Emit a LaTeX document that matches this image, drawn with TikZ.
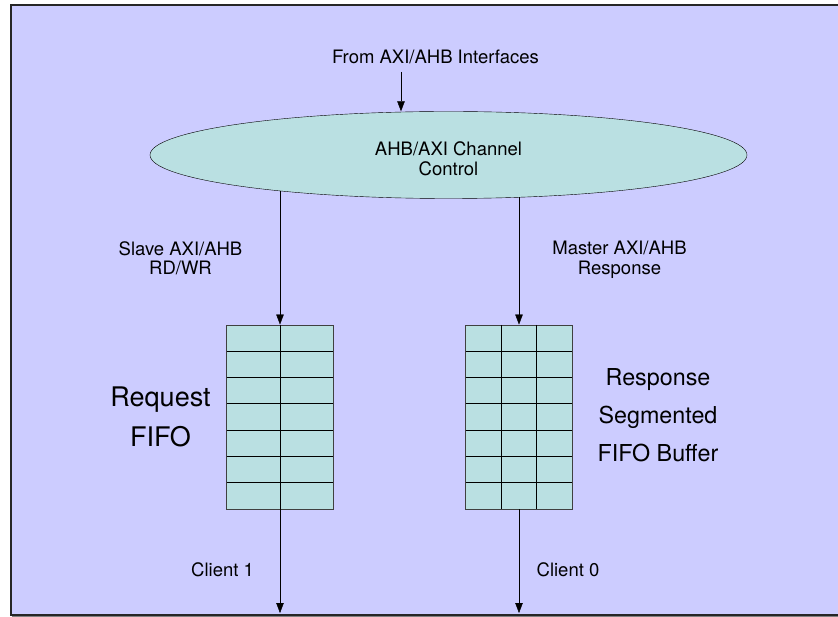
\documentclass[tikz,border=0pt]{standalone}
\usepackage{fontspec}
\setmainfont{TeX Gyre Heros}
\usepackage{tikz}
\usetikzlibrary{arrows.meta,shapes.geometric,positioning}
\definecolor{backdrop}{RGB}{204,204,255}
\definecolor{cellfill}{RGB}{186,224,226}

\tikzset{
  lbl/.style={inner sep=0pt, align=center, font=\fontsize{18.5}{19.3}\selectfont},
  fifo/.style={draw=black!75, fill=cellfill, minimum height=184pt, inner sep=0pt, line width=0.9pt},
  cell/.style={line width=0.9pt},
}

\begin{document}
\begin{tikzpicture}[x=1pt, y=-1pt, >={Triangle[length=10pt,width=7.5pt]}]
    \useasboundingbox (0,0) rectangle (838,617);

    % Backdrop panel
    \fill[backdrop] (11,5) rectangle (838,615);
    \draw[gray, line width=1pt] (12,616.5) -- (838,616.5);
    \draw[black!85, line width=1.2pt] (838,5) -- (11,5) -- (11,615) -- (838,615);

    % Channel control
    \node[draw, ellipse, fill=cellfill, minimum width=597pt, minimum height=87pt, inner sep=0pt] (ctrl) at (448.5,155) {};
    \node[lbl] (ctrltxt) at (448.5,158.7) {AHB/AXI Channel\\Control};

    \node[lbl, anchor=base] (from) at (435.5,64) {From AXI/AHB Interfaces};
    \coordinate (infeed) at (401,72);
    \draw[->] (infeed) -- (infeed |- ctrl.north);

    % Request FIFO, two columns
    \node[fifo, minimum width=106.3pt] (req) at (280,417) {};
    \foreach \i in {1,...,6}
        \draw[cell] (226.85,{325+\i*26.29}) -- (333.15,{325+\i*26.29});
    \draw[cell] (req.north) -- (req.south);
    \node[inner sep=0pt, align=center, font=\fontsize{27}{40.7}\selectfont] (reqtxt) at (160.5,416.8) {Request\\FIFO};

    % Response FIFO, three columns
    \node[fifo, minimum width=106.6pt] (rsp) at (519,417) {};
    \foreach \i in {1,...,6}
        \draw[cell] (465.7,{325+\i*26.29}) -- (572.3,{325+\i*26.29});
    \foreach \x in {501.2,536.8}
        \draw[cell] (\x,325) -- (\x,509);
    \node[inner sep=0pt, align=center, font=\fontsize{23.3}{38}\selectfont] (rsptxt) at (658,414.8) {Response\\Segmented\\FIFO Buffer};

    % Channels into the FIFOs
    \draw[->] (req.north |- ctrl.192) -- (req.north);
    \draw[->] (rsp.north |- ctrl.329) -- (rsp.north);
    \node[lbl] (slave) at (180.5,258.2) {Slave AXI/AHB\\RD/WR};
    \node[lbl] (master) at (619.5,259.8) {Master AXI/AHB\\Response};

    % Client outputs
    \coordinate (cl1) at (280,613);
    \coordinate (cl0) at (519,613);
    \draw[->] (req.south) -- (cl1);
    \draw[->] (rsp.south) -- (cl0);
    \node[lbl, anchor=base] (client1) at (222.6,576.7) {Client 1};
    \node[lbl, anchor=base] (client0) at (568,576.7) {Client 0};
\end{tikzpicture}
\end{document}
